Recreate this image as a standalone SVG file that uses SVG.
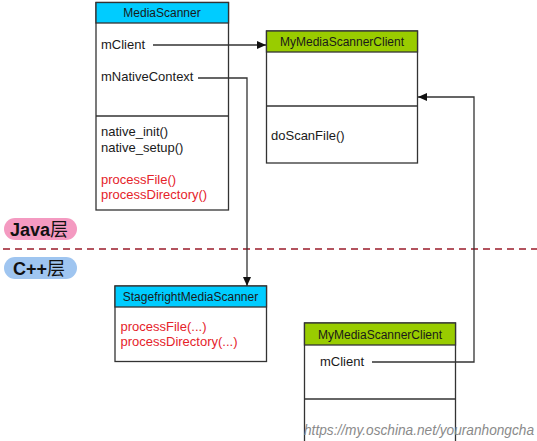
<svg xmlns="http://www.w3.org/2000/svg" width="537" height="441" viewBox="0 0 537 441">
<style>
.box{fill:#fff;stroke:#333;stroke-width:1.3}
.hdrC{fill:#00ccff;stroke:#333;stroke-width:1.3}
.hdrG{fill:#99cc00;stroke:#333;stroke-width:1.3}
.sep{stroke:#333;stroke-width:1.3}
.ht{font-family:"Liberation Sans",Arial,sans-serif;font-size:12px;fill:#1a1a1a;text-anchor:middle}
.t{font-family:"Liberation Sans",Arial,sans-serif;font-size:13px;fill:#1a1a1a}
.r{fill:#e5232a}
.conn{fill:none;stroke:#333;stroke-width:1.3}
.lay{font-family:"Liberation Sans",Arial,"Noto Sans CJK SC",sans-serif;font-size:18px;font-weight:bold;fill:#111}
.cjk{font-family:"Noto Sans CJK SC",sans-serif;font-weight:normal;font-size:18px}
</style>
<defs>
<marker id="arr" markerWidth="10" markerHeight="8" refX="9" refY="4" orient="auto" markerUnits="userSpaceOnUse">
<path d="M0,0 L9,4 L0,8 Z" fill="#111"/>
</marker>
</defs>
<rect width="537" height="441" fill="#fff"/>

<g id="layer-java">
<rect x="4" y="218" width="73" height="22" rx="11" fill="#f49ac1"/>
<text class="lay" x="10" y="235.5">Java<tspan class="cjk">层</tspan></text>
</g>
<g id="layer-cpp">
<rect x="4" y="257" width="73" height="22" rx="11" fill="#9fc5f0"/>
<text class="lay" x="13" y="274.5">C++<tspan class="cjk">层</tspan></text>
</g>
<line x1="3" y1="249" x2="537" y2="249" stroke="#9b1b2a" stroke-width="1.5" stroke-dasharray="7,5"/>

<g id="MediaScanner">
<rect class="box" x="96" y="2.5" width="132.5" height="207.5"/>
<rect class="hdrC" x="96" y="2.5" width="132.5" height="20.5"/>
<line class="sep" x1="96" y1="116" x2="228.5" y2="116"/>
<text class="ht" x="162" y="17">MediaScanner</text>
<text class="t" x="101" y="48.5">mClient</text>
<text class="t" x="101" y="80.5">mNativeContext</text>
<text class="t" x="101" y="135.5">native_init()</text>
<text class="t" x="101" y="151.5">native_setup()</text>
<text class="t r" x="101" y="183.5">processFile()</text>
<text class="t r" x="101" y="198.5">processDirectory()</text>
</g>

<g id="MyMediaScannerClient-java">
<rect class="box" x="266.5" y="31" width="151" height="132"/>
<rect class="hdrG" x="266.5" y="31" width="151" height="21"/>
<line class="sep" x1="266.5" y1="106" x2="417.5" y2="106"/>
<text class="ht" x="342" y="46">MyMediaScannerClient</text>
<text class="t" x="271" y="139.5">doScanFile()</text>
</g>

<g id="StagefrightMediaScanner">
<rect class="box" x="115" y="286" width="151.5" height="75.5"/>
<rect class="hdrC" x="115" y="286" width="151.5" height="21"/>
<text class="ht" x="190.5" y="300.5">StagefrightMediaScanner</text>
<text class="t r" x="120.5" y="331">processFile(...)</text>
<text class="t r" x="120.5" y="346">processDirectory(...)</text>
</g>

<g id="MyMediaScannerClient-cpp">
<rect class="box" x="304.5" y="323" width="151" height="125"/>
<rect class="hdrG" x="304.5" y="323" width="151" height="22"/>
<line class="sep" x1="304.5" y1="399" x2="455.5" y2="399"/>
<text class="ht" x="380" y="338.5">MyMediaScannerClient</text>
<text class="t" x="320" y="366">mClient</text>
</g>

<g id="connectors">
<path class="conn" d="M153,45 H266" marker-end="url(#arr)"/>
<path class="conn" d="M198,78 H247 V286" marker-end="url(#arr)"/>
<path class="conn" d="M372,362 H474 V97 H418" marker-end="url(#arr)"/>
</g>

<text x="304" y="435" font-family="'Liberation Sans',Arial,sans-serif" font-size="14" font-style="italic" fill="#8a8a8a" textLength="230" lengthAdjust="spacingAndGlyphs">https://my.oschina.net/youranhongcha</text>
</svg>
